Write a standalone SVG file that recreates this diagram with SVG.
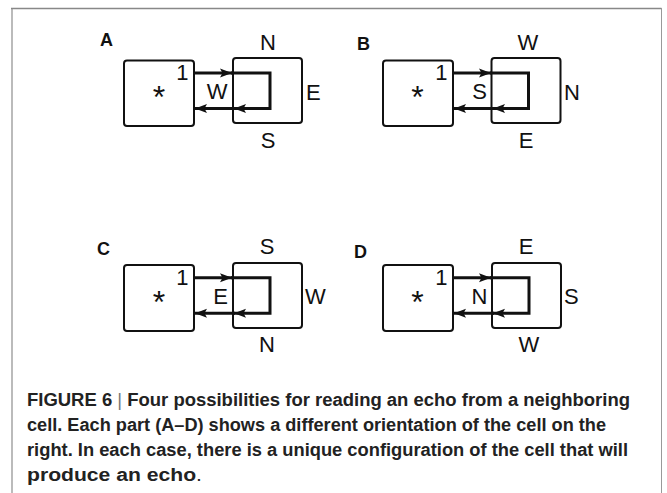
<svg xmlns="http://www.w3.org/2000/svg" width="667" height="493" viewBox="0 0 667 493">
<defs>
<marker id="ah" markerUnits="userSpaceOnUse" markerWidth="13" markerHeight="10" refX="12" refY="5" orient="auto" overflow="visible">
<path d="M0,0.5 L12,5 L0,9.5 L2.5,5 z" fill="#111"/>
</marker>
<style>
.box{fill:#fff;stroke:#111;stroke-width:2}
.ln{fill:none;stroke:#111;stroke-width:3}
.lb{font-family:"Liberation Sans",Arial,sans-serif;font-size:22px;fill:#111}
.ast{font-family:"Liberation Sans",Arial,sans-serif;font-size:32px;fill:#111;text-anchor:middle}
.pl{font-family:"Liberation Sans",Arial,sans-serif;font-size:18px;font-weight:bold;fill:#111}
.mid{text-anchor:middle}
.end{text-anchor:end}
.cap{font-family:"Liberation Sans",Arial,sans-serif;font-size:18px;font-weight:bold;fill:#222}
</style>
</defs>
<rect x="0" y="0" width="667" height="493" fill="#fff"/>
<g id="frame">
<line x1="12" y1="8" x2="12" y2="493" stroke="#bbb" stroke-width="2"/>
<line x1="11" y1="8.5" x2="661.5" y2="8.5" stroke="#888" stroke-width="1.5"/>
<line x1="661.5" y1="8" x2="661.5" y2="493" stroke="#999" stroke-width="1"/>
</g>
<g id="labels">
<text class="pl" x="100" y="46">A</text>
<text class="pl" x="357" y="50">B</text>
<text class="pl" x="97" y="255">C</text>
<text class="pl" x="354" y="258">D</text>
</g>
<!-- Panel A -->
<g id="A-left">
<rect class="box" x="124" y="60.5" width="70" height="65.5" rx="3"/>
<text class="lb end" x="188.5" y="80">1</text>
<text class="ast" x="159" y="108">*</text>
</g>
<g id="A-right">
<rect class="box" x="233" y="58" width="69" height="65" rx="3"/>
<text class="lb mid" x="268" y="50">N</text>
<text class="lb" x="306" y="100">E</text>
<text class="lb mid" x="268" y="148">S</text>
<text class="lb end" x="227.5" y="99">W</text>
</g>
<!-- Panel B -->
<g id="B-left">
<rect class="box" x="383" y="60.5" width="70" height="65.5" rx="3"/>
<text class="lb end" x="447.5" y="80">1</text>
<text class="ast" x="417.5" y="108">*</text>
</g>
<g id="B-right">
<rect class="box" x="491.5" y="58" width="69" height="65" rx="3"/>
<text class="lb mid" x="528" y="50">W</text>
<text class="lb" x="564" y="100">N</text>
<text class="lb mid" x="526" y="148">E</text>
<text class="lb end" x="487" y="99">S</text>
</g>
<!-- Panel C -->
<g id="C-left">
<rect class="box" x="124" y="265" width="70" height="66" rx="3"/>
<text class="lb end" x="188.5" y="285">1</text>
<text class="ast" x="159" y="313">*</text>
</g>
<g id="C-right">
<rect class="box" x="233" y="263" width="69" height="65" rx="3"/>
<text class="lb mid" x="267" y="254">S</text>
<text class="lb" x="305" y="304">W</text>
<text class="lb mid" x="267" y="352">N</text>
<text class="lb end" x="228" y="304">E</text>
</g>
<!-- Panel D -->
<g id="D-left">
<rect class="box" x="383" y="265" width="70" height="66" rx="3"/>
<text class="lb end" x="447.5" y="285">1</text>
<text class="ast" x="417.5" y="313">*</text>
</g>
<g id="D-right">
<rect class="box" x="492" y="263" width="69" height="65" rx="3"/>
<text class="lb mid" x="526" y="254">E</text>
<text class="lb" x="564" y="304">S</text>
<text class="lb mid" x="529" y="352">W</text>
<text class="lb end" x="487.5" y="304">N</text>
</g>
<g id="connectors">
<path class="ln" d="M194,73 H232" marker-end="url(#ah)"/>
<path class="ln" d="M231,73 H270 V108.5 H234" marker-end="url(#ah)"/>
<path class="ln" d="M235,108.5 H195" marker-end="url(#ah)"/>
<path class="ln" d="M453,73 H491" marker-end="url(#ah)"/>
<path class="ln" d="M490,73 H528.5 V108.5 H493" marker-end="url(#ah)"/>
<path class="ln" d="M494,108.5 H454" marker-end="url(#ah)"/>
<path class="ln" d="M194,277.7 H232" marker-end="url(#ah)"/>
<path class="ln" d="M231,277.7 H270 V313.3 H234" marker-end="url(#ah)"/>
<path class="ln" d="M235,313.3 H195" marker-end="url(#ah)"/>
<path class="ln" d="M453,277.7 H491" marker-end="url(#ah)"/>
<path class="ln" d="M490,277.7 H529 V313.3 H493" marker-end="url(#ah)"/>
<path class="ln" d="M494,313.3 H454" marker-end="url(#ah)"/>
</g>
<g id="caption">
<text class="cap" x="27" y="405.5" textLength="603" lengthAdjust="spacingAndGlyphs">FIGURE 6 <tspan font-weight="normal" fill="#777">|</tspan> Four possibilities for reading an echo from a neighboring</text>
<text class="cap" x="27" y="430.5" textLength="579" lengthAdjust="spacingAndGlyphs">cell. Each part (A–D) shows a different orientation of the cell on the</text>
<text class="cap" x="27" y="455.5" textLength="601" lengthAdjust="spacingAndGlyphs">right. In each case, there is a unique configuration of the cell that will</text>
<text class="cap" x="27" y="481" textLength="175" lengthAdjust="spacingAndGlyphs">produce an echo<tspan font-weight="normal">.</tspan></text>
</g>
</svg>
